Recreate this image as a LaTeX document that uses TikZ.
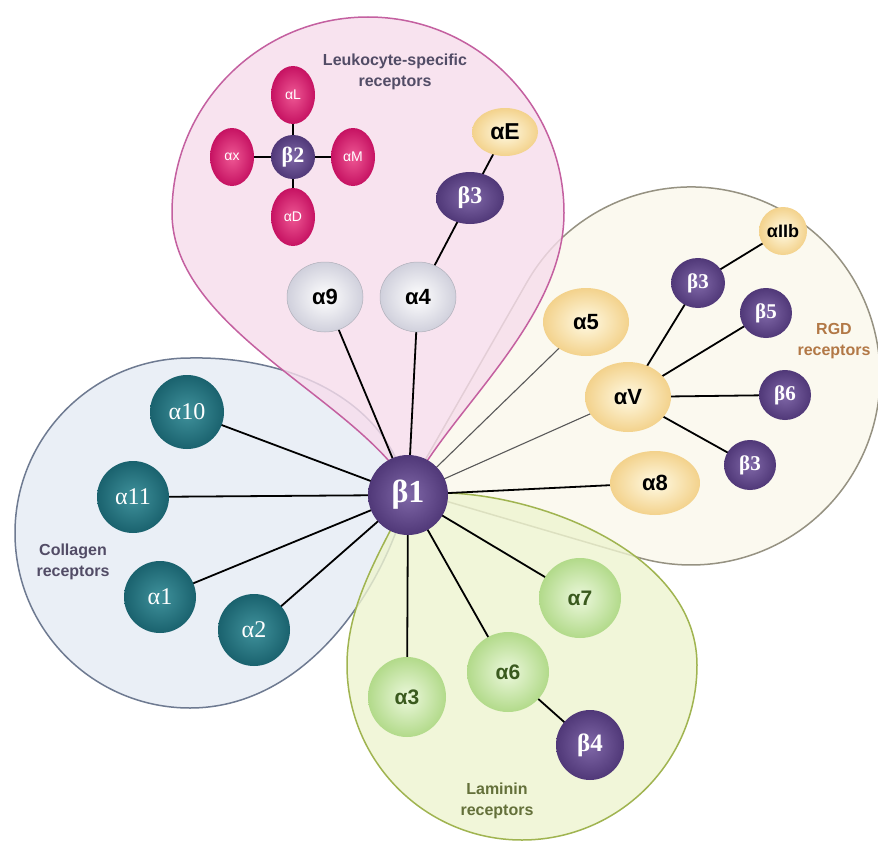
\documentclass[tikz,border=0pt]{standalone}
\usepackage{fontspec}
\setmainfont{Liberation Sans}
\newfontfamily\serifgr{Liberation Serif}
\usetikzlibrary{shapes.geometric}
\pgfdeclarelayer{background}
\pgfsetlayers{background,main}
\newcommand\fsz[1]{\fontsize{#1}{#1}\selectfont}
\definecolor{tealA}{RGB}{26,98,110}
\definecolor{tealB}{RGB}{64,146,156}
\definecolor{purA}{RGB}{80,56,120}
\definecolor{purB}{RGB}{128,104,168}
\definecolor{magA}{RGB}{198,18,98}
\definecolor{magB}{RGB}{238,88,148}
\definecolor{yelA}{RGB}{243,210,140}
\definecolor{yelB}{RGB}{255,250,228}
\definecolor{whA}{RGB}{208,208,220}
\definecolor{whB}{RGB}{255,255,255}
\definecolor{grnA}{RGB}{178,218,138}
\definecolor{grnB}{RGB}{236,248,220}
\definecolor{pinkF}{RGB}{247,221,236}
\definecolor{pinkD}{RGB}{196,96,160}
\definecolor{blueF}{RGB}{229,235,244}
\definecolor{blueD}{RGB}{110,122,145}
\definecolor{greenF}{RGB}{238,244,208}
\definecolor{greenD}{RGB}{160,180,80}
\definecolor{beigeF}{RGB}{250,248,235}
\definecolor{beigeD}{RGB}{150,146,130}
\definecolor{labgray}{RGB}{82,76,102}
\definecolor{labbrown}{RGB}{178,120,70}
\definecolor{labolive}{RGB}{100,112,58}
\definecolor{txtgreen}{RGB}{58,90,30}
\tikzset{
  wh/.style 2 args={minimum width=#1, minimum height=#2},
  bead/.style={ellipse, inner sep=0pt, outer sep=0pt},
  tealbead/.style={bead, inner color=tealB, outer color=tealA, text=white, font=\serifgr\fsz{24}},
  purbead/.style={bead, inner color=purB, outer color=purA, text=white, font=\serifgr\bfseries\fsz{22}},
  magbead/.style={bead, inner color=magB, outer color=magA, text=white, font=\fsz{14}},
  yelbead/.style={bead, inner color=yelB, outer color=yelA, text=black, font=\bfseries\fsz{22}},
  whbead/.style={bead, inner color=whB, outer color=whA, draw=whA!85!black, line width=0.5pt, text=black, font=\bfseries\fsz{22}},
  grnbead/.style={bead, inner color=grnB, outer color=grnA, text=txtgreen, font=\bfseries\fsz{21}},
  petal/.style={fill opacity=0.8, line width=1.5pt},
  link/.style={line width=1.8pt, black},
  thinlink/.style={line width=1.1pt, black!65},
  lab/.style={align=center, font=\bfseries\fontsize{16}{21}\selectfont}
}
\begin{document}
\begin{tikzpicture}[x=1pt,y=1pt,yscale=-1]
\useasboundingbox (0,0) rectangle (878,843);

\begin{pgfonlayer}{background}
\fill[white] (0,0) rectangle (878,843);
% collagen petal
\path[petal, fill=blueF, draw=blueD]
  (408,495) .. controls (390,400) and (290,356) .. (190,358)
  arc[start angle=270, end angle=90, radius=175]
  .. controls (300,708) and (380,600) .. (408,495) -- cycle;
% RGD petal
\path[petal, fill=beigeF, draw=beigeD]
  (408,490) -- (527,282.1)
  arc[start angle=209.78, end angle=466.34, radius=189] -- cycle;
% laminin petal
\path[petal, fill=greenF, draw=greenD]
  (408,495) .. controls (500,480) and (697,540) .. (697,665)
  arc[start angle=0, end angle=180, radius=175]
  .. controls (347,600) and (385,545) .. (408,495) -- cycle;
% leukocyte petal
\path[petal, fill=pinkF, draw=pinkD]
  (410,490) .. controls (360,400) and (172,330) .. (172,213)
  arc[start angle=180, end angle=360, radius=196]
  .. controls (564,320) and (450,410) .. (410,490) -- cycle;
\end{pgfonlayer}

% labels
\node[lab, text=labgray] (tLeuk) at (395,72) {Leukocyte-specific\\receptors};
\node[lab, text=labgray] (tColl) at (73,562) {Collagen\\receptors};
\node[lab, text=labbrown] (tRGD) at (834,341) {RGD\\receptors};
\node[lab, text=labolive] (tLam) at (497,801) {Laminin\\receptors};

% nodes
\node[purbead, wh={80}{80}, font=\serifgr\bfseries\fsz{32}] (b1) at (408,495) {β1};
\node[whbead, wh={76}{70}] (a9) at (325,297) {α9};
\node[whbead, wh={76}{70}] (a4) at (418,297) {α4};
\node[purbead, wh={68}{52}, font=\serifgr\bfseries\fsz{24}] (b3a) at (470,198) {β3};
\node[yelbead, wh={66}{48}, font=\bfseries\fsz{23}] (aE) at (505,132) {αE};

\node[purbead, wh={44}{44}] (b2) at (293,157) {β2};
\node[magbead, wh={44}{58}] (aL) at (293,95) {αL};
\node[magbead, wh={44}{58}] (ax) at (232,157) {αx};
\node[magbead, wh={44}{58}] (aM) at (353,157) {αM};
\node[magbead, wh={44}{58}] (aD) at (293,217) {αD};

\node[tealbead, wh={74}{74}] (a10) at (187,412) {α10};
\node[tealbead, wh={72}{72}] (a11) at (133,497) {α11};
\node[tealbead, wh={72}{72}] (a1) at (160,597) {α1};
\node[tealbead, wh={72}{72}] (a2) at (254,630) {α2};

\node[grnbead, wh={78}{80}] (a3) at (407,697) {α3};
\node[grnbead, wh={82}{80}] (a6) at (508,672) {α6};
\node[grnbead, wh={82}{80}] (a7) at (580,598) {α7};
\node[purbead, wh={68}{70}, font=\serifgr\bfseries\fsz{25}] (b4) at (590,745) {β4};

\node[yelbead, wh={86}{68}] (a5) at (586,322) {α5};
\node[yelbead, wh={86}{70}] (aV) at (628,397) {αV};
\node[yelbead, wh={90}{64}] (a8) at (655,483) {α8};
\node[yelbead, wh={48}{48}, font=\bfseries\fsz{18}] (aIIb) at (783,231) {αIIb};
\node[purbead, wh={54}{50}, font=\serifgr\bfseries\fsz{21}] (b3b) at (698,283) {β3};
\node[purbead, wh={52}{50}, font=\serifgr\bfseries\fsz{21}] (b5) at (766,313) {β5};
\node[purbead, wh={52}{50}, font=\serifgr\bfseries\fsz{21}] (b6) at (785,395) {β6};
\node[purbead, wh={52}{50}, font=\serifgr\bfseries\fsz{21}] (b3c) at (750,465) {β3};

\begin{pgfonlayer}{background}
\foreach \t in {a9,a4,a10,a11,a1,a2,a3,a6,a7,a8}
  \draw[link] (b1.center) -- (\t.center);
\foreach \t in {a5,aV}
  \draw[thinlink] (b1.center) -- (\t.center);
\draw[link] (a4.center) -- (b3a.center);
\draw[link] (b3a.center) -- (aE.center);
\foreach \t in {aL,ax,aM,aD}
  \draw[link] (b2.center) -- (\t.center);
\foreach \t in {b3b,b5,b6,b3c}
  \draw[link] (aV.center) -- (\t.center);
\draw[link] (b3b.center) -- (aIIb.center);
\draw[link] (a6.center) -- (b4.center);
\end{pgfonlayer}
\end{tikzpicture}
\end{document}
